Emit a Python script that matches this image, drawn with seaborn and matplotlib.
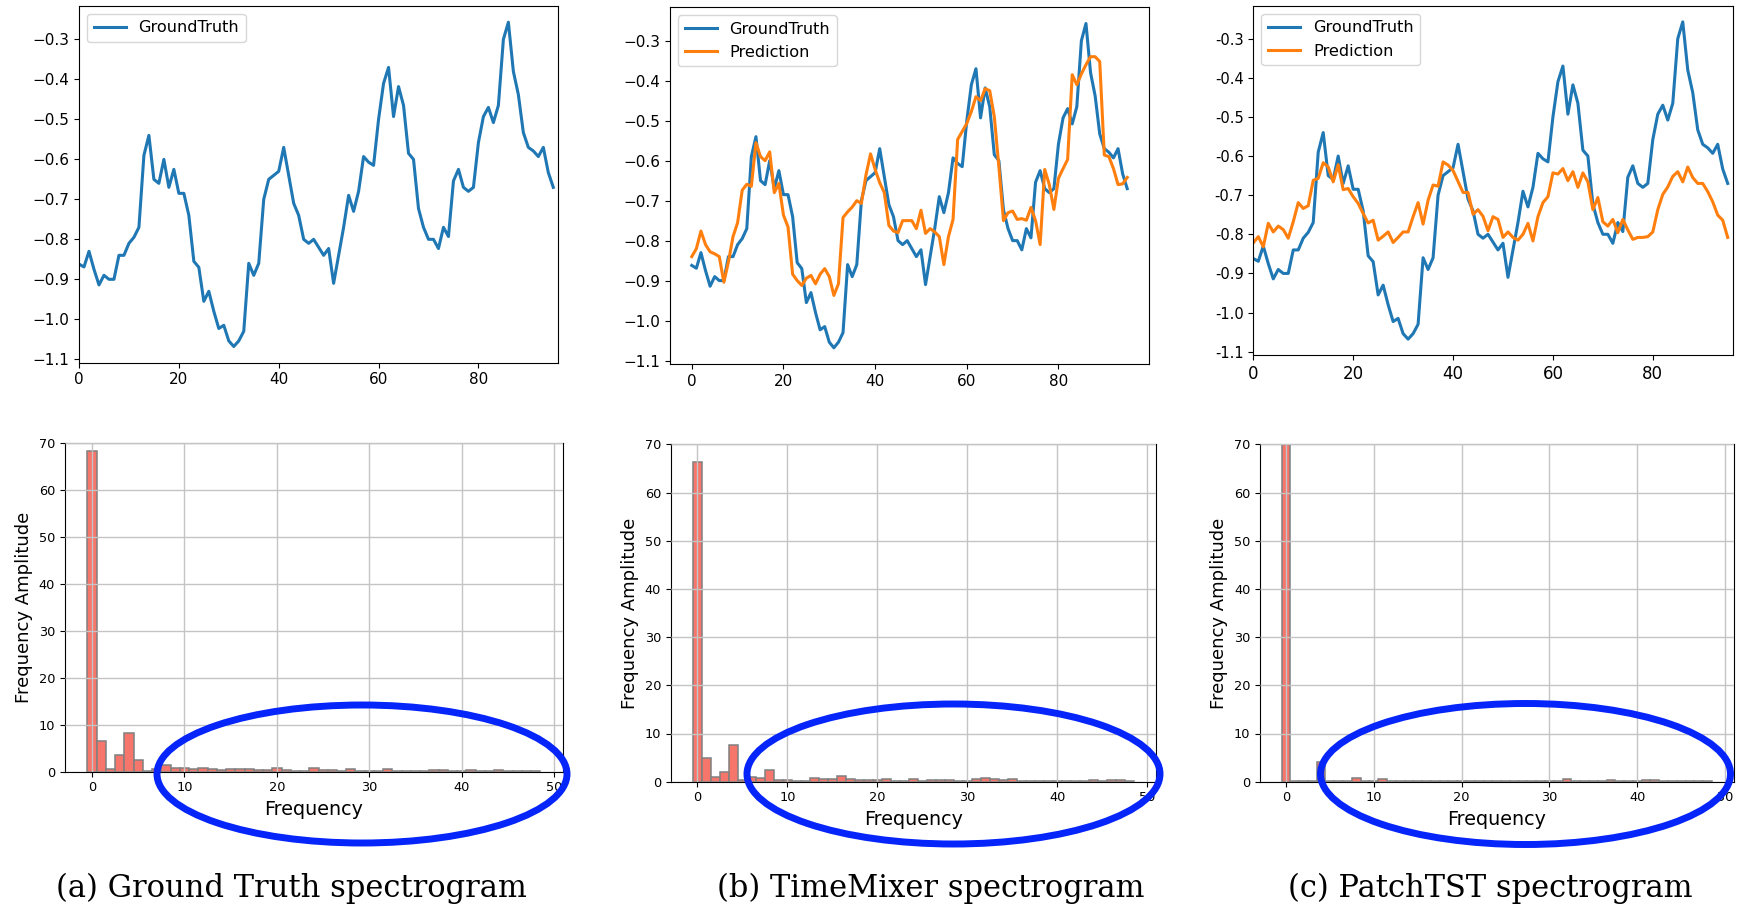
import matplotlib
matplotlib.use("Agg")
import matplotlib.pyplot as plt
from matplotlib.patches import Ellipse
from matplotlib.ticker import FuncFormatter
import numpy as np
import seaborn as sns

# ---------------- data ----------------
steps = list(range(96))

ground_truth = [
    -0.862, -0.869, -0.83, -0.875, -0.914, -0.89, -0.90, -0.90, -0.84, -0.84,
    -0.81, -0.795, -0.77, -0.59, -0.54, -0.65, -0.66, -0.60, -0.67, -0.625,
    -0.685, -0.685, -0.74, -0.855, -0.87, -0.955, -0.93, -0.98, -1.023, -1.015,
    -1.054, -1.068, -1.054, -1.03, -0.86, -0.89, -0.86, -0.70, -0.65, -0.64,
    -0.63, -0.57, -0.64, -0.71, -0.74, -0.80, -0.81, -0.80, -0.82, -0.84,
    -0.823, -0.91, -0.84, -0.77, -0.69, -0.73, -0.68, -0.593, -0.607, -0.615,
    -0.50, -0.41, -0.37, -0.493, -0.418, -0.465, -0.585, -0.60, -0.723, -0.77,
    -0.80, -0.80, -0.823, -0.77, -0.793, -0.654, -0.625, -0.67, -0.68, -0.67,
    -0.558, -0.493, -0.47, -0.508, -0.465, -0.30, -0.257, -0.38, -0.438, -0.533,
    -0.57, -0.579, -0.593, -0.57, -0.633, -0.67,
]

timemixer_pred = [
    -0.84, -0.82, -0.776, -0.81, -0.828, -0.833, -0.84, -0.904, -0.853, -0.79,
    -0.755, -0.674, -0.659, -0.664, -0.555, -0.59, -0.60, -0.578, -0.68, -0.657,
    -0.736, -0.766, -0.884, -0.90, -0.912, -0.894, -0.887, -0.908, -0.884, -0.87,
    -0.89, -0.937, -0.908, -0.742, -0.728, -0.716, -0.70, -0.707, -0.636, -0.583,
    -0.622, -0.655, -0.68, -0.762, -0.776, -0.78, -0.75, -0.75, -0.75, -0.77,
    -0.724, -0.782, -0.77, -0.778, -0.79, -0.86, -0.79, -0.747, -0.547, -0.527,
    -0.507, -0.477, -0.44, -0.45, -0.42, -0.425, -0.49, -0.615, -0.75, -0.73,
    -0.726, -0.747, -0.745, -0.749, -0.717, -0.75, -0.81, -0.622, -0.66, -0.722,
    -0.644, -0.62, -0.597, -0.385, -0.41, -0.383, -0.36, -0.34, -0.34, -0.352,
    -0.586, -0.59, -0.62, -0.66, -0.658, -0.642,
]

patchtst_pred = [
    -0.822, -0.806, -0.832, -0.772, -0.794, -0.779, -0.788, -0.81, -0.768, -0.719,
    -0.734, -0.727, -0.662, -0.657, -0.617, -0.628, -0.666, -0.622, -0.686, -0.683,
    -0.704, -0.721, -0.747, -0.771, -0.764, -0.815, -0.805, -0.794, -0.821, -0.808,
    -0.794, -0.794, -0.755, -0.719, -0.774, -0.713, -0.674, -0.677, -0.615, -0.623,
    -0.637, -0.665, -0.693, -0.693, -0.749, -0.737, -0.754, -0.791, -0.755, -0.762,
    -0.808, -0.794, -0.808, -0.815, -0.80, -0.772, -0.817, -0.755, -0.719, -0.704,
    -0.643, -0.646, -0.632, -0.663, -0.640, -0.680, -0.643, -0.666, -0.737, -0.706,
    -0.768, -0.779, -0.762, -0.796, -0.762, -0.789, -0.813, -0.808, -0.808, -0.806,
    -0.794, -0.737, -0.698, -0.679, -0.652, -0.640, -0.666, -0.628, -0.655, -0.670,
    -0.670, -0.691, -0.717, -0.751, -0.764, -0.808,
]

freqs = list(range(49))

amp_ground_truth = [
    68.4, 6.6, 0.5, 3.6, 8.2, 2.4, 0.2, 0.5, 1.35, 0.8,
    0.7, 0.5, 0.7, 0.6, 0.45, 0.6, 0.6, 0.65, 0.4, 0.3,
    0.7, 0.4, 0.1, 0.2, 0.85, 0.35, 0.35, 0.15, 0.6, 0.2,
    0.2, 0.2, 0.6, 0.15, 0.2, 0.15, 0.2, 0.3, 0.45, 0.2,
    0.1, 0.3, 0.1, 0.2, 0.3, 0.2, 0.1, 0.2, 0.1,
]

amp_timemixer = [
    66.3, 5.0, 0.9, 2.0, 7.6, 0.4, 0.9, 0.8, 2.35, 0.4,
    0.35, 0.15, 0.15, 0.7, 0.5, 0.55, 1.1, 0.5, 0.35, 0.4,
    0.4, 0.5, 0.15, 0.2, 0.5, 0.2, 0.4, 0.3, 0.35, 0.15,
    0.15, 0.5, 0.7, 0.5, 0.4, 0.6, 0.2, 0.15, 0.15, 0.2,
    0.15, 0.15, 0.15, 0.15, 0.3, 0.15, 0.4, 0.4, 0.2,
]

amp_patchtst = [
    71.5, 0.05, 0.15, 0.1, 4.0, 0.1, 0.1, 0.15, 0.7, 0.15,
    0.1, 0.5, 0.1, 0.2, 0.1, 0.05, 0.1, 0.15, 0.1, 0.1,
    0.1, 0.1, 0.1, 0.1, 0.05, 0.1, 0.1, 0.05, 0.1, 0.1,
    0.1, 0.15, 0.5, 0.15, 0.1, 0.1, 0.15, 0.35, 0.1, 0.05,
    0.2, 0.25, 0.25, 0.1, 0.05, 0.05, 0.05, 0.05, 0.05,
]

captions = [
    "(a) Ground Truth spectrogram",
    "(b) TimeMixer spectrogram",
    "(c) PatchTST spectrogram",
]

# ---------------- styling ----------------
W, H = 1737, 910
BLUE = "#1f77b4"
ORANGE = "#ff7f0e"
BAR = "#F7766B"
RING = "#0525FA"

fig = plt.figure(figsize=(W / 100, H / 100), dpi=100)


def px_axes(l, t, r, b):
    return fig.add_axes([l / W, 1 - b / H, (r - l) / W, (b - t) / H])


def ring(cx, cy, w, h):
    fig.add_artist(Ellipse((cx / W, 1 - cy / H), w / W, h / H,
                           transform=fig.transFigure, fill=False,
                           edgecolor=RING, linewidth=5.0, zorder=10))


# ---------------- time-series panels ----------------
ax1 = px_axes(79, 6, 558.3, 362.7)
sns.lineplot(x=steps, y=ground_truth, ax=ax1, color=BLUE, linewidth=2.2,
             label="GroundTruth", errorbar=None)
ax1.set_xlim(0, 96)

ax2 = px_axes(670, 7.3, 1149, 364)
sns.lineplot(x=steps, y=ground_truth, ax=ax2, color=BLUE, linewidth=2.2,
             label="GroundTruth", errorbar=None)
sns.lineplot(x=steps, y=timemixer_pred, ax=ax2, color=ORANGE, linewidth=2.2,
             label="Prediction", errorbar=None)

ax3 = px_axes(1253.3, 6, 1732.7, 355)
sns.lineplot(x=steps, y=ground_truth, ax=ax3, color=BLUE, linewidth=2.2,
             label="GroundTruth", errorbar=None)
sns.lineplot(x=steps, y=patchtst_pred, ax=ax3, color=ORANGE, linewidth=2.2,
             label="Prediction", errorbar=None)
ax3.set_xlim(0, 96)
ax3.yaxis.set_major_formatter(FuncFormatter(lambda v, p: f"{v:.1f}"))

for ax in (ax1, ax2, ax3):
    ax.set_xticks([0, 20, 40, 60, 80])
    ax.set_yticks(np.round(np.arange(-1.1, -0.25, 0.1), 1))
    ax.set_xlabel("")
    ax.set_ylabel("")
    ax.legend(loc="upper left", fontsize=11.6)
ax1.tick_params(labelsize=11)
ax2.tick_params(labelsize=11)
ax3.tick_params(axis="y", labelsize=10.5)
ax3.tick_params(axis="x", labelsize=12)

# ---------------- spectrum panels ----------------
spec_boxes = [
    (64.8, 443.3, 563, 771.7),
    (670.8, 444.3, 1155.9, 781.7),
    (1260, 444.3, 1733.5, 781.7),
]
spectra = [amp_ground_truth, amp_timemixer, amp_patchtst]

for box, amps in zip(spec_boxes, spectra):
    ax = px_axes(*box)
    sns.barplot(x=freqs, y=amps, ax=ax, native_scale=True, width=1.0,
                color=BAR, saturation=1, edgecolor="gray", linewidth=1.1,
                errorbar=None)
    ax.set_xlim(-2.95, 50.95)
    ax.set_ylim(0, 70)
    ax.set_xticks([0, 10, 20, 30, 40, 50])
    ax.set_yticks([0, 10, 20, 30, 40, 50, 60, 70])
    ax.grid(True, color="#c4c4c4", linewidth=1.0)
    ax.set_axisbelow(False)
    ax.tick_params(labelsize=9.3)
    ax.set_xlabel("Frequency", fontsize=13.8)
    ax.set_ylabel("Frequency Amplitude", fontsize=13.0)

# highlight of the high-frequency band
ring(362, 774, 410, 138)
ring(953.5, 774, 413, 140)
ring(1525.5, 774, 410, 141)

# ---------------- captions ----------------
for x, text in zip([291, 930.5, 1490], captions):
    fig.text(x / W, 1 - 888.5 / H, text, ha="center", va="center",
             fontsize=22, family="DejaVu Serif")

fig.savefig("out.png", dpi=100)
